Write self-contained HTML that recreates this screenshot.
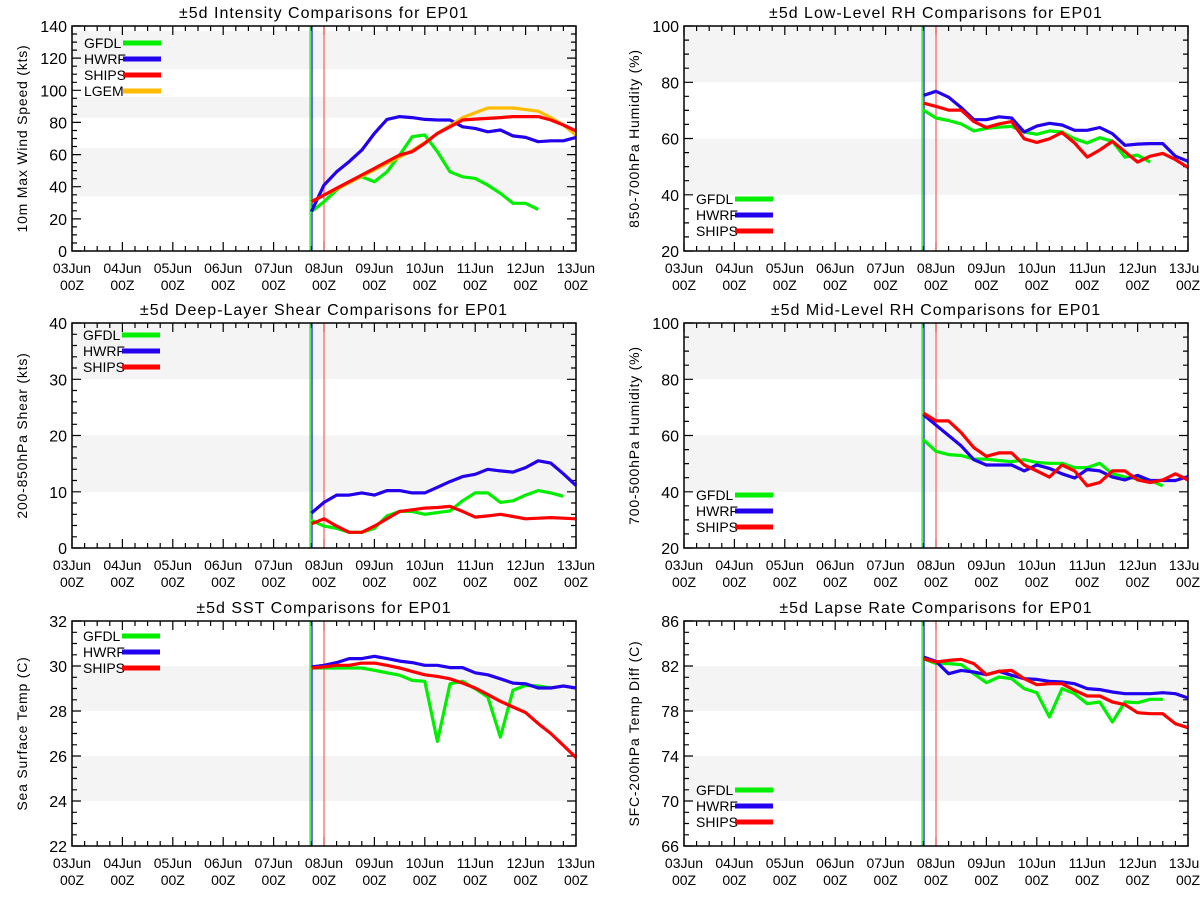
<!DOCTYPE html>
<html><head><meta charset="utf-8"><style>
html,body{margin:0;padding:0;background:#fff;}
svg{display:block;font-family:"Liberation Sans",sans-serif;}
</style></head><body>
<svg id="chart" width="1200" height="900" viewBox="0 0 1200 900" xmlns="http://www.w3.org/2000/svg"></svg>
<script>
// ---- shared data ----
const dayLabels = ["03Jun","04Jun","05Jun","06Jun","07Jun","08Jun","09Jun","10Jun","11Jun","12Jun","13Jun"];
const seriesStartDay = 4.75; // 07Jun 18Z
const stepDays = 0.25;       // 6-hourly
const modelNames = ["GFDL","HWRF","SHIPS","LGEM"];
const modelColors = {GFDL:"#00ee00",HWRF:"#2200ee",SHIPS:"#ff0000",LGEM:"#ffbb00"};

// Panel 1: intensity
const intGFDL = [24.5,30.7,38,43.1,46.2,43.1,49.3,59.7,71.1,72.2,61.8,49.3,46.2,45.2,41,35.9,29.7,29.7,25.9];
const intHWRF = [24.5,41,49.3,55.6,62.8,73.2,81.9,83.6,83,81.9,81.5,81.5,77.3,76.3,74.2,75.3,71.6,70.7,68,68.6,68.6,70.7];
const intSHIPS = [30.7,34.8,39,43.1,47.3,51.4,55.6,59.7,61.8,67,73.2,77.3,81.5,82.1,82.5,83,83.6,83.6,83.6,81.5,78.4,74.7];
const intLGEM = [30.7,34.8,38.5,42.5,46.5,50.5,54.5,58.5,62.5,67.5,73.2,78,83,86,89,89,89,88,87,83,78.4,72];
// Panel 2: low-level RH
const lrhGFDL = [70.1,67.3,66.4,65.2,62.7,63.6,64,64.3,62.3,61.5,62.7,62.3,59.9,58.4,60.3,59,53.4,54.1,51.6];
const lrhHWRF = [75.3,76.8,74.7,71,66.7,66.7,67.7,67.3,62.3,64.4,65.4,64.8,62.9,62.9,63.9,61.7,57.6,58,58.2,58.2,53.7,51.9];
const lrhSHIPS = [72.6,71.4,70.1,70.1,66,63.9,65.2,66,59.9,58.6,59.9,62.1,58.4,53.4,55.9,59,55.3,51.6,53.7,54.7,52.5,49.7];
// Panel 3: shear
const shrGFDL = [4.9,3.9,3.5,2.8,2.8,3.5,5.7,6.5,6.5,6,6.3,6.6,8.4,9.8,9.8,8.1,8.4,9.4,10.2,9.8,9.2];
const shrHWRF = [6.2,8.1,9.4,9.4,9.8,9.4,10.2,10.2,9.8,9.8,10.8,11.8,12.7,13.1,14,13.7,13.5,14.3,15.5,15.1,13.2,11.1];
const shrSHIPS = [4.3,5.2,3.9,2.8,2.8,3.9,5.2,6.5,6.8,7.1,7.2,7.4,6.5,5.5,5.7,6,5.6,5.2,5.3,5.4,5.3,5.2];
// Panel 4: mid-level RH
const mrhGFDL = [58.5,54.4,53.2,52.9,51.6,51.6,51.1,50.7,51.4,50.4,50.1,50.1,48.6,48.6,50.1,46.4,45.2,44.6,44,42.1];
const mrhHWRF = [67.4,63.7,60,56.3,51.4,49.5,49.5,49.5,47.4,49.5,48.3,46.4,44.9,47.9,47.4,45.2,44.2,45.8,44,44,44,45.4];
const mrhSHIPS = [68,65.2,65.2,61,55.7,52.6,53.8,53.8,49.5,47.4,45.2,49.5,47.4,42.1,43.3,47.4,47.4,44.2,43.3,44.2,46.4,44.2];
// Panel 5: SST
const sstGFDL = [29.91,29.91,29.91,29.91,29.91,29.81,29.7,29.59,29.36,29.32,26.65,29.21,29.32,28.99,28.62,26.84,28.92,29.14,29.11,29.02];
const sstHWRF = [29.96,30.03,30.15,30.33,30.33,30.43,30.33,30.22,30.15,30.03,30.03,29.93,29.93,29.7,29.61,29.43,29.24,29.21,29.02,29.02,29.11,29.02];
const sstSHIPS = [29.91,29.96,30.03,30.03,30.13,30.13,30.03,29.91,29.76,29.61,29.54,29.43,29.24,29.02,28.73,28.43,28.18,27.93,27.44,27,26.47,25.93];
// Panel 6: lapse rate
const lapGFDL = [82.65,82.21,82.21,82.12,81.32,80.52,81.02,80.87,79.99,79.63,77.47,79.99,79.54,78.65,78.8,77.02,78.8,78.74,79.04,79.04];
const lapHWRF = [82.8,82.41,81.32,81.61,81.47,81.23,81.53,81.17,80.87,80.81,80.64,80.58,80.43,79.99,79.9,79.69,79.54,79.54,79.54,79.63,79.54,79.16];
const lapSHIPS = [82.65,82.36,82.5,82.59,82.21,81.23,81.53,81.61,80.87,80.34,80.43,80.43,79.84,79.33,79.33,78.8,78.56,77.85,77.76,77.76,76.87,76.52];

// y tick labels / bands per panel
const intTicks=[0,20,40,60,80,100,120,140], intBands=[[34,64],[83,96],[113,137]];
const lrhTicks=[20,40,60,80,100], lrhBands=[[40,60],[80,100]];
const shrTicks=[0,10,20,30,40], shrBands=[[10,20],[30,40]];
const mrhTicks=[20,40,60,80,100], mrhBands=[[40,60],[80,100]];
const sstTicks=[22,24,26,28,30,32], sstBands=[[24,26],[28,30]];
const lapTicks=[66,70,74,78,82,86], lapBands=[[70,74],[78,82]];

const NS="http://www.w3.org/2000/svg";
const svg=document.getElementById("chart");
function mk(tag,attrs,parent){const e=document.createElementNS(NS,tag);for(const k in attrs)e.setAttribute(k,attrs[k]);(parent||svg).appendChild(e);return e;}

const panels=[
 {key:"intensity",title:"\u00b15d Intensity Comparisons for EP01",ylab:"10m Max Wind Speed (kts)",x0:72,y0:26,ymin:0,ymax:140,ticks:intTicks,minor:5,bands:intBands,
  series:{GFDL:intGFDL,HWRF:intHWRF,LGEM:intLGEM,SHIPS:intSHIPS},legend:["GFDL","HWRF","SHIPS","LGEM"],lx:85,ly:43},
 {key:"low-rh",title:"\u00b15d Low-Level RH Comparisons for EP01",ylab:"850-700hPa Humidity (%)",x0:684,y0:26,ymin:20,ymax:100,ticks:lrhTicks,minor:5,bands:lrhBands,
  series:{GFDL:lrhGFDL,HWRF:lrhHWRF,SHIPS:lrhSHIPS},legend:["GFDL","HWRF","SHIPS"],lx:697,ly:199},
 {key:"shear",title:"\u00b15d Deep-Layer Shear Comparisons for EP01",ylab:"200-850hPa Shear (kts)",x0:72,y0:323,ymin:0,ymax:40,ticks:shrTicks,minor:2,bands:shrBands,
  series:{GFDL:shrGFDL,HWRF:shrHWRF,SHIPS:shrSHIPS},legend:["GFDL","HWRF","SHIPS"],lx:84,ly:335},
 {key:"mid-rh",title:"\u00b15d Mid-Level RH Comparisons for EP01",ylab:"700-500hPa Humidity (%)",x0:684,y0:323,ymin:20,ymax:100,ticks:mrhTicks,minor:5,bands:mrhBands,
  series:{GFDL:mrhGFDL,HWRF:mrhHWRF,SHIPS:mrhSHIPS},legend:["GFDL","HWRF","SHIPS"],lx:697,ly:495},
 {key:"sst",title:"\u00b15d SST Comparisons for EP01",ylab:"Sea Surface Temp (C)",x0:72,y0:621,ymin:22,ymax:32,ticks:sstTicks,minor:0.5,bands:sstBands,
  series:{GFDL:sstGFDL,HWRF:sstHWRF,SHIPS:sstSHIPS},legend:["GFDL","HWRF","SHIPS"],lx:84,ly:636},
 {key:"lapse-rate",title:"\u00b15d Lapse Rate Comparisons for EP01",ylab:"SFC-200hPa Temp Diff (C)",x0:684,y0:621,ymin:66,ymax:86,ticks:lapTicks,minor:1,bands:lapBands,
  series:{GFDL:lapGFDL,HWRF:lapHWRF,SHIPS:lapSHIPS},legend:["GFDL","HWRF","SHIPS"],lx:697,ly:790}
];
const W=504,H=225,ndays=10;

panels.forEach(p=>{
  const g=mk("g",{});
  
  
  const xs=d=>p.x0+d*W/ndays;
  const ys=v=>p.y0+H-(v-p.ymin)/(p.ymax-p.ymin)*H;
  p.bands.forEach(b=>{
    const r=mk("rect",{x:p.x0,y:ys(b[1]),width:W,height:ys(b[0])-ys(b[1]),fill:"#f4f4f4"},g);
    
    
  });
  const t=mk("text",{x:p.x0+W/2,y:p.y0-8,"text-anchor":"middle","font-size":"16","letter-spacing":"1",fill:"#000"},g);
  t.textContent=p.title;
  
  
  const lx=p.x0-45, ly=p.y0+H/2;
  const yl=mk("text",{x:lx,y:ly,"text-anchor":"middle","font-size":"14","letter-spacing":"0.8",transform:`rotate(-90 ${lx} ${ly})`,fill:"#000"},g);
  yl.textContent=p.ylab;
  
  
  let tp="";
  for(let v=p.ymin;v<=p.ymax+1e-9;v+=p.minor){
    const y=ys(v).toFixed(1);
    const major=p.ticks.some(tv=>Math.abs(tv-v)<1e-6);
    const L=major?9:5;
    tp+=`M${p.x0} ${y}h${L}M${p.x0+W} ${y}h${-L}`;
  }
  for(let d=0;d<=ndays*4;d++){
    const x=xs(d/4).toFixed(1), L=(d%4===0)?9:5;
    tp+=`M${x} ${p.y0+H}v${-L}M${x} ${p.y0}v${L}`;
  }
  const tk=mk("path",{d:tp,stroke:"#000","stroke-width":1.2,fill:"none"},g);
  
  
  p.ticks.forEach(v=>{
    const e=mk("text",{x:p.x0-5,y:ys(v)+6,"text-anchor":"end","font-size":"16",fill:"#000"},g);
    e.textContent=v;
    
    
  });
  dayLabels.forEach((lab,i)=>{
    const e=mk("text",{x:xs(i),y:p.y0+H+22,"text-anchor":"middle","font-size":"14",fill:"#000"},g);
    e.textContent=lab;
    
    
    const e2=mk("text",{x:xs(i),y:p.y0+H+39,"text-anchor":"middle","font-size":"14",fill:"#000"},g);
    e2.textContent="00Z";
    
    
  });
  const vg=mk("line",{x1:xs(seriesStartDay)-1.3,x2:xs(seriesStartDay)-1.3,y1:p.y0,y2:p.y0+H,stroke:"#00ee00","stroke-width":1.2},g);
  
  
  const vb=mk("line",{x1:xs(seriesStartDay)+0.6,x2:xs(seriesStartDay)+0.6,y1:p.y0,y2:p.y0+H,stroke:"#2200ee","stroke-width":1.2},g);
  
  
  const vr=mk("line",{x1:xs(5),x2:xs(5),y1:p.y0,y2:p.y0+H,stroke:"#ff6666","stroke-width":1.3},g);
  
  
  Object.keys(p.series).forEach(name=>{
    const arr=p.series[name];
    const pts=arr.map((v,i)=>xs(seriesStartDay+i*stepDays).toFixed(1)+","+ys(v).toFixed(1)).join(" ");
    const pl=mk("polyline",{points:pts,fill:"none",stroke:modelColors[name],"stroke-width":3.2,"stroke-linejoin":"round"},g);
    
    
  });
  const fr=mk("rect",{x:p.x0,y:p.y0,width:W,height:H,fill:"none",stroke:"#000","stroke-width":1.5},g);
  
  
  p.legend.forEach((name,i)=>{
    const yy=p.ly+i*16;
    const lt=mk("text",{x:p.lx-1,y:yy+5,"font-size":"14",fill:"#000"},g);
    lt.textContent=name;
    
    
    const ll=mk("line",{x1:p.lx+38,x2:p.lx+76,y1:yy,y2:yy,stroke:modelColors[name],"stroke-width":5},g);
    
    
  });
});
</script>
</body></html>
